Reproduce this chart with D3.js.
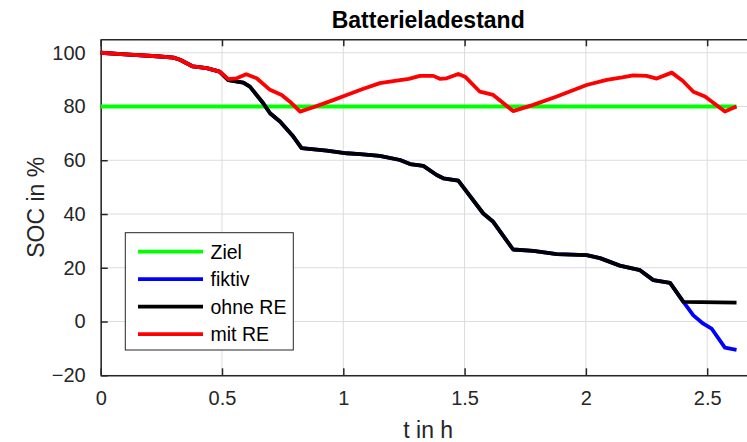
<!DOCTYPE html>
<html><head><meta charset="utf-8">
<script src="https://cdn.jsdelivr.net/npm/d3@7/dist/d3.min.js"></script>
<style>
html,body{margin:0;padding:0;background:#fff;}
text{font-family:"Liberation Sans",Arial,Helvetica,sans-serif;}
</style></head>
<body>
<svg id="chart" width="747" height="442"></svg>
<script>
// ---- data ----
const title = "Batterieladestand";
const xLabel = "t in h";
const yLabel = "SOC in %";
const xTicks = [0, 0.5, 1, 1.5, 2, 2.5];
const yTicks = [-20, 0, 20, 40, 60, 80, 100];
const seriesNames = ["Ziel", "fiktiv", "ohne RE", "mit RE"];
const seriesColors = ["#00ff00", "#0000ff", "#000000", "#ff0000"];

const zielT = [0, 2.621];
const zielV = [80, 80];

const mitT = [0, 0.10, 0.231, 0.30, 0.327, 0.38, 0.437, 0.49, 0.526, 0.56, 0.60, 0.643, 0.698, 0.746, 0.78, 0.822,
  0.876, 0.95, 1.014, 1.08, 1.151, 1.22, 1.27, 1.316, 1.371, 1.398, 1.426, 1.474, 1.502, 1.563, 1.618, 1.70,
  1.783, 1.88, 2.003, 2.086, 2.15, 2.195, 2.25, 2.292, 2.354, 2.40, 2.443, 2.491, 2.573, 2.594, 2.621];
const mitV = [100, 99.4, 98.7, 98.2, 97.4, 94.9, 94.3, 93, 90.2, 90.5, 92, 90.5, 86.2, 84.3, 81.8, 78.1,
  79.7, 82.1, 84.3, 86.5, 88.7, 89.6, 90.3, 91.4, 91.4, 90.3, 90.5, 92.1, 91.1, 85.5, 84.3, 78.3,
  80.6, 83.7, 88.0, 89.9, 90.8, 91.6, 91.4, 90.4, 92.6, 89.5, 85.5, 83.7, 78.1, 79, 80];

const ohneT = [0, 0.10, 0.231, 0.30, 0.327, 0.38, 0.437, 0.49, 0.526, 0.588, 0.615, 0.67, 0.698, 0.739, 0.794, 0.828,
  0.932, 1.014, 1.069, 1.15, 1.234, 1.275, 1.33, 1.385, 1.412, 1.474, 1.577, 1.618, 1.70, 1.783, 1.88, 2.003,
  2.058, 2.14, 2.223, 2.278, 2.347, 2.402, 2.621];
const ohneV = [100, 99.4, 98.7, 98.2, 97.4, 94.9, 94.3, 93, 89.8, 88.9, 87.4, 81.2, 77.5, 74.4, 68.8, 64.5,
  63.6, 62.6, 62.3, 61.6, 60.1, 58.6, 57.9, 54.5, 53.3, 52.4, 40.2, 37.1, 26.8, 26.3, 25.1, 24.7,
  23.6, 20.8, 19.1, 15.4, 14.4, 7.3, 7];

const fiktivT = [0, 0.10, 0.231, 0.30, 0.327, 0.38, 0.437, 0.49, 0.526, 0.588, 0.615, 0.67, 0.698, 0.739, 0.794, 0.828,
  0.932, 1.014, 1.069, 1.15, 1.234, 1.275, 1.33, 1.385, 1.412, 1.474, 1.577, 1.618, 1.70, 1.783, 1.88, 2.003,
  2.058, 2.14, 2.223, 2.278, 2.347, 2.402, 2.443, 2.484, 2.518, 2.573, 2.60, 2.621];
const fiktivV = [100, 99.4, 98.7, 98.2, 97.4, 94.9, 94.3, 93, 89.8, 88.9, 87.4, 81.2, 77.5, 74.4, 68.8, 64.5,
  63.6, 62.6, 62.3, 61.6, 60.1, 58.6, 57.9, 54.5, 53.3, 52.4, 40.2, 37.1, 26.8, 26.3, 25.1, 24.7,
  23.6, 20.8, 19.1, 15.4, 14.4, 7.3, 2.3, -0.8, -2.6, -9.7, -10.2, -10.5];

// ---- layout ----
const svg = d3.select("#chart");
const L = 100.7, R = 755.7, T = 39.3, B = 375.3;
const x = d3.scaleLinear().domain([0, 2.7]).range([L, R]);
const y = d3.scaleLinear().domain([-20, 105]).range([B, T]);
const axisColor = "#262626";
const tickFont = 20;

svg.append("rect").attr("x", 0).attr("y", 0).attr("width", 747).attr("height", 442).attr("fill", "#fff");

// grid
const grid = svg.append("g");
grid.selectAll(".gx").data(xTicks).enter().append("line")
  .attr("x1", d => x(d)).attr("x2", d => x(d)).attr("y1", T).attr("y2", B)
  .attr("stroke", "#dcdcdc").attr("stroke-width", 1);
grid.selectAll(".gy").data(yTicks).enter().append("line")
  .attr("x1", L).attr("x2", R).attr("y1", d => y(d)).attr("y2", d => y(d))
  .attr("stroke", "#dcdcdc").attr("stroke-width", 1);

// axes via d3
const xAxisB = d3.axisBottom(x).tickValues(xTicks).tickSizeInner(-7).tickSizeOuter(0).tickPadding(16)
  .tickFormat(d => d3.format("")(d));
const gxb = svg.append("g").attr("transform", `translate(0,${B})`).call(xAxisB);
const xAxisT = d3.axisTop(x).tickValues(xTicks).tickSizeInner(-7).tickSizeOuter(0).tickFormat("");
const gxt = svg.append("g").attr("transform", `translate(0,${T})`).call(xAxisT);
const yAxisL = d3.axisLeft(y).tickValues(yTicks).tickSizeInner(-7).tickSizeOuter(0).tickPadding(15);
const gyl = svg.append("g").attr("transform", `translate(${L},0)`).call(yAxisL);
[gxb, gxt, gyl].forEach(g => {
  g.select(".domain").attr("stroke", axisColor).attr("stroke-width", 1.5);
  g.selectAll(".tick line").attr("stroke", axisColor).attr("stroke-width", 1.5);
  g.selectAll("text").attr("fill", axisColor).style("font-size", tickFont + "px")
    .style("font-family", "'Liberation Sans', Arial, sans-serif");
});
gxb.selectAll(".tick text").attr("dy", "0.71em");

// lines
const mk = (ts, vs) => ts.map((t, i) => [t, vs[i]]);
const lineGen = d3.line().x(d => x(d[0])).y(d => y(d[1]));
const seriesData = [mk(zielT, zielV), mk(fiktivT, fiktivV), mk(ohneT, ohneV), mk(mitT, mitV)];
const plot = svg.append("g");
seriesData.forEach((data, i) => {
  plot.append("path").datum(data).attr("d", lineGen)
    .attr("fill", "none").attr("stroke", seriesColors[i]).attr("stroke-width", 3.8)
    .attr("stroke-linejoin", "round").attr("stroke-linecap", "butt");
});

// title & labels
svg.append("text").attr("x", (L + R) / 2).attr("y", 28).attr("text-anchor", "middle")
  .style("font-size", "23px").style("font-weight", "bold").attr("fill", "#000").text(title);
svg.append("text").attr("x", (L + R) / 2).attr("y", 438).attr("text-anchor", "middle")
  .style("font-size", "23px").attr("fill", axisColor).text(xLabel);
svg.append("text").attr("transform", `translate(44,${(T + B) / 2}) rotate(-90)`).attr("text-anchor", "middle")
  .style("font-size", "23px").attr("fill", axisColor).text(yLabel);

// legend
const lg = svg.append("g");
lg.append("rect").attr("x", 125.3).attr("y", 232.7).attr("width", 168).attr("height", 117.3)
  .attr("fill", "#fff").attr("stroke", axisColor).attr("stroke-width", 1);
seriesNames.forEach((name, i) => {
  const yy = 251.7 + i * 27.5;
  lg.append("line").attr("x1", 138).attr("x2", 203).attr("y1", yy).attr("y2", yy)
    .attr("stroke", seriesColors[i]).attr("stroke-width", 3.8);
  lg.append("text").attr("x", 210.5).attr("y", yy).attr("dy", "0.35em")
    .style("font-size", "19.5px").attr("fill", "#000").text(name);
});
</script>
</body></html>
